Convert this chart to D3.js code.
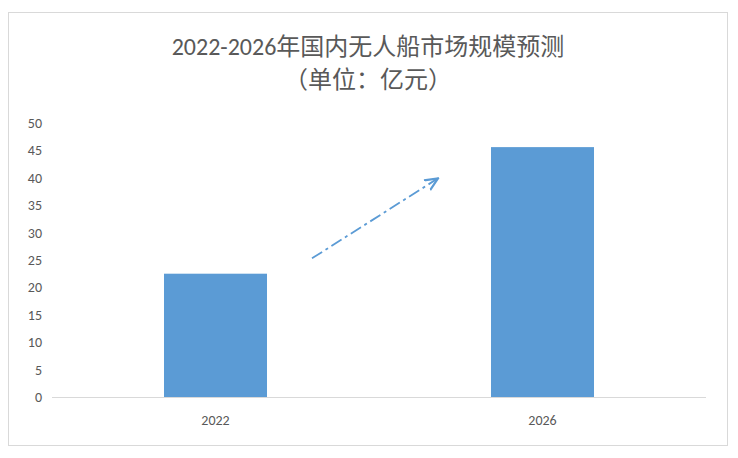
<!DOCTYPE html>
<html><head><meta charset="utf-8">
<script src="https://cdn.jsdelivr.net/npm/d3@7/dist/d3.min.js"></script>
<style>body{margin:0;background:#fff;}</style></head>
<body><svg id="c" width="738" height="458"></svg>
<script>
const categories = ["2022", "2026"];
const values = [22.5, 45.6];
const yTicks = [0,5,10,15,20,25,30,35,40,45,50];
const titleLines = ["2022-2026年国内无人船市场规模预测", "（单位：亿元）"];

const svg = d3.select("#c");
const font = "Calibri, Carlito, 'Noto Sans CJK SC', 'Liberation Sans', sans-serif";
svg.append("rect").attr("x",8.5).attr("y",12.5).attr("width",719).attr("height",433)
  .attr("fill","#fff").attr("stroke","#d9d9d9");

const x = d3.scaleBand().domain(categories).range([52,706]).padding(0);
const y = d3.scaleLinear().domain([0,50]).range([397,123]);
const bw = x.bandwidth()*0.315;

svg.selectAll(".t").data(titleLines).enter().append("text")
  .attr("x",368).attr("y",(d,i)=>55+i*33).attr("text-anchor","middle")
  .attr("font-family",font).attr("font-size",24).attr("fill","#595959").text(d=>d);

svg.selectAll(".yt").data(yTicks).enter().append("text")
  .attr("x",42).attr("y",d=>y(d)+5).attr("text-anchor","end")
  .attr("font-family",font).attr("font-size",14).attr("fill","#595959").text(d=>d);

svg.append("line").attr("x1",52).attr("x2",706).attr("y1",397.5).attr("y2",397.5).attr("stroke","#d9d9d9");

svg.selectAll(".b").data(values).enter().append("rect")
  .attr("x",(d,i)=>x(categories[i])+x.bandwidth()/2-bw/2).attr("width",bw)
  .attr("y",d=>y(d)).attr("height",d=>y(0)-y(d)).attr("fill","#5b9bd5");

svg.selectAll(".xl").data(categories).enter().append("text")
  .attr("x",d=>x(d)+x.bandwidth()/2).attr("y",425).attr("text-anchor","middle")
  .attr("font-family",font).attr("font-size",14).attr("fill","#595959").text(d=>d);

// trend arrow
const defs = svg.append("defs");
defs.append("marker").attr("id","ah").attr("viewBox","0 0 10 10").attr("refX",9).attr("refY",5)
  .attr("markerWidth",8).attr("markerHeight",8).attr("orient","auto")
  .append("path").attr("d","M0,1 L9,5 L0,9").attr("fill","none").attr("stroke","#5b9bd5").attr("stroke-width",1.5);
const xm = x("2022")+x.bandwidth();
svg.append("line").attr("x1",xm-67).attr("y1",y(25.3)).attr("x2",xm+59).attr("y2",y(39.9))
  .attr("stroke","#5b9bd5").attr("stroke-width",1.8).attr("stroke-dasharray","12,4,3,4")
  .attr("marker-end","url(#ah)");
</script></body></html>
